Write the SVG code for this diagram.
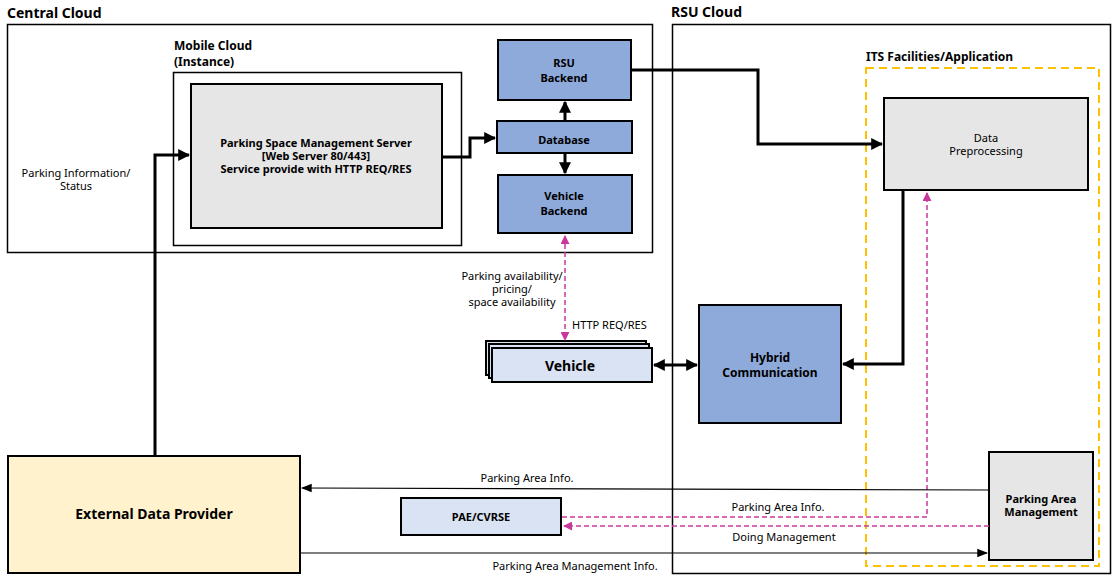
<svg xmlns="http://www.w3.org/2000/svg" width="1116" height="582" viewBox="0 0 1116 582">
<defs>
<style>
text{font-family:"Noto Sans","DejaVu Sans",sans-serif;fill:#000}
.t{font-size:14px;font-weight:bold}
.b{font-size:12px;font-weight:bold}
.s{font-size:11px}
.n{font-size:11px;font-weight:bold}
.box{stroke:#000;stroke-width:2}
.blue{fill:#8eaadb}
.gray{fill:#e6e6e6}
.thick{fill:none;stroke:#000;stroke-width:3}
.thin{fill:none;stroke:#000;stroke-width:1.2}
.pink{fill:none;stroke:#c8389c;stroke-width:1.5;stroke-dasharray:5,3}
</style>
<marker id="ah" viewBox="0 0 10 10" refX="9" refY="5" markerWidth="4" markerHeight="4" orient="auto-start-reverse"><path d="M0,0L10,5L0,10z" fill="#000"/></marker>
<marker id="ahs" viewBox="0 0 10 10" refX="9" refY="5" markerWidth="9" markerHeight="9" orient="auto-start-reverse"><path d="M0,1L10,5L0,9z" fill="#000"/></marker>
<marker id="ap" viewBox="0 0 10 10" refX="9" refY="5" markerWidth="6" markerHeight="6" orient="auto-start-reverse"><path d="M0,0L10,5L0,10z" fill="#c8389c"/></marker>
</defs>

<g id="central-cloud">
<text class="t" x="7" y="18">Central Cloud</text>
<rect x="7.5" y="24.5" width="645" height="228" fill="none" stroke="#000" stroke-width="1.5"/>
</g>
<g id="mobile-cloud">
<text class="b" x="174" y="50">Mobile Cloud</text>
<text class="b" x="174" y="66">(Instance)</text>
<rect x="173.5" y="72.5" width="288" height="173" fill="none" stroke="#000" stroke-width="1.5"/>
</g>
<g id="server">
<rect class="box gray" x="191" y="84" width="251" height="144"/>
<text class="n" x="316" y="147" text-anchor="middle">Parking Space Management Server</text>
<text class="n" x="316" y="160" text-anchor="middle">[Web Server 80/443]</text>
<text class="n" x="316" y="173" text-anchor="middle">Service provide with HTTP REQ/RES</text>
</g>
<g id="rsu-backend">
<rect class="box blue" x="498" y="40" width="133" height="60"/>
<text class="n" x="564" y="67" text-anchor="middle">RSU</text>
<text class="n" x="564" y="82" text-anchor="middle">Backend</text>
</g>
<g id="database">
<rect class="box blue" x="497" y="121" width="135" height="32"/>
<text class="n" x="564" y="144" text-anchor="middle">Database</text>
</g>
<g id="vehicle-backend">
<rect class="box blue" x="498" y="175" width="134" height="58"/>
<text class="n" x="564" y="200" text-anchor="middle">Vehicle</text>
<text class="n" x="564" y="215" text-anchor="middle">Backend</text>
</g>

<g id="rsu-cloud">
<text class="t" x="671" y="17">RSU Cloud</text>
<rect x="672.5" y="24.5" width="438" height="549" fill="none" stroke="#000" stroke-width="1.5"/>
</g>
<g id="its">
<text class="b" x="866" y="61">ITS Facilities/Application</text>
<rect x="866" y="68" width="233" height="498" fill="none" stroke="#ffc000" stroke-width="2" stroke-dasharray="8,5"/>
</g>
<g id="data-preprocessing">
<rect class="box gray" x="884" y="98" width="204" height="92"/>
<text class="s" x="986" y="142" text-anchor="middle">Data</text>
<text class="s" x="986" y="155" text-anchor="middle">Preprocessing</text>
</g>
<g id="hybrid">
<rect class="box blue" x="699" y="305" width="142" height="118"/>
<text class="b" x="770" y="362" text-anchor="middle">Hybrid</text>
<text class="b" x="770" y="377" text-anchor="middle">Communication</text>
</g>
<g id="vehicle">
<rect class="box" fill="#dae3f3" x="486" y="341" width="160" height="34"/>
<rect class="box" fill="#dae3f3" x="489" y="344" width="160" height="34"/>
<rect class="box" fill="#dae3f3" x="492" y="348" width="160" height="34"/>
<text class="t" x="570" y="371" text-anchor="middle">Vehicle</text>
</g>
<g id="pae">
<rect class="box" fill="#dae3f3" x="401" y="498" width="160" height="37"/>
<text class="n" x="481" y="521" text-anchor="middle">PAE/CVRSE</text>
</g>
<g id="pam">
<rect class="box gray" x="989" y="452" width="104" height="108"/>
<text class="n" x="1041" y="503" text-anchor="middle">Parking Area</text>
<text class="n" x="1041" y="516" text-anchor="middle">Management</text>
</g>
<g id="edp">
<rect class="box" fill="#fff2cc" x="8" y="456" width="292" height="117"/>
<text class="t" x="154" y="519" text-anchor="middle">External Data Provider</text>
</g>

<g id="connectors">
<polyline class="thick" points="442,157 470,157 470,138 495,138" marker-end="url(#ah)"/>
<line class="thick" x1="565" y1="121" x2="565" y2="102" marker-end="url(#ah)"/>
<line class="thick" x1="565" y1="153" x2="565" y2="173" marker-end="url(#ah)"/>
<polyline class="thick" points="631,70 758,70 758,144 882,144" marker-end="url(#ah)"/>
<polyline class="thick" points="903,190 903,364 843,364" marker-end="url(#ah)"/>
<line class="thick" x1="654" y1="365" x2="697" y2="365" marker-start="url(#ah)" marker-end="url(#ah)"/>
<polyline class="thick" points="155,456 155,155 189,155" marker-end="url(#ah)"/>
<line class="pink" x1="565" y1="236" x2="565" y2="340" marker-start="url(#ap)" marker-end="url(#ap)"/>
<polyline class="pink" points="562,517 927,517 927,193" marker-end="url(#ap)"/>
<line class="pink" x1="989" y1="526" x2="564" y2="526" marker-end="url(#ap)"/>
<line class="thin" x1="989" y1="490" x2="302" y2="488" marker-end="url(#ahs)"/>
<line class="thin" x1="300" y1="553" x2="987" y2="553" marker-end="url(#ahs)"/>
<text class="s" x="76" y="177" text-anchor="middle">Parking Information/</text>
<text class="s" x="76" y="190" text-anchor="middle">Status</text>
<text class="s" x="512" y="280" text-anchor="middle">Parking availability/</text>
<text class="s" x="512" y="293" text-anchor="middle">pricing/</text>
<text class="s" x="512" y="306" text-anchor="middle">space availability</text>
<text class="s" x="572" y="329">HTTP REQ/RES</text>
<text class="s" x="527" y="482" text-anchor="middle">Parking Area Info.</text>
<text class="s" x="778" y="511" text-anchor="middle">Parking Area Info.</text>
<text class="s" x="784" y="541" text-anchor="middle">Doing Management</text>
<text class="s" x="575" y="570" text-anchor="middle">Parking Area Management Info.</text>
</g>
</svg>
